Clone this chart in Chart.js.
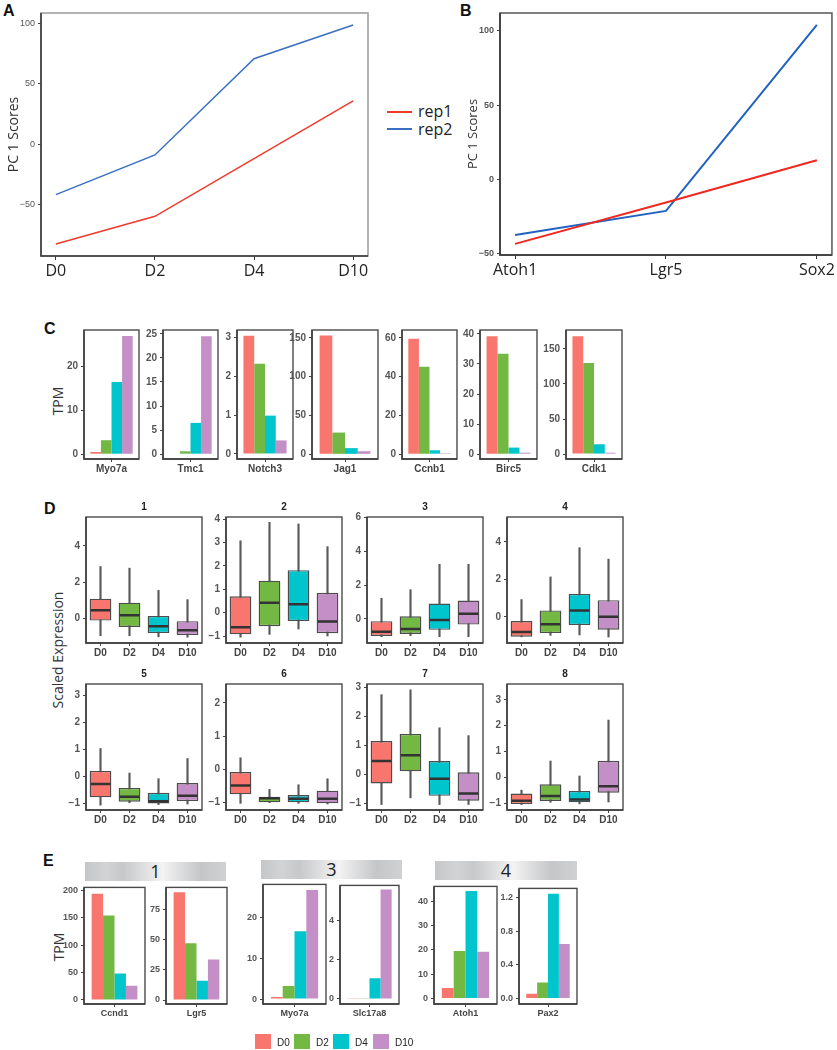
<!DOCTYPE html>
<html>
<head>
<meta charset="utf-8">
<script src="https://cdn.jsdelivr.net/npm/chart.js@4.4.0/dist/chart.umd.min.js"></script>
<style>
html, body { margin: 0; padding: 0; background: #fff; }
#fig { position: relative; width: 837px; height: 1050px; overflow: hidden; font-family: 'Liberation Sans', Arial, sans-serif; }
.letter { position: absolute; font-weight: bold; font-size: 16px; line-height: 1; color: #111; }
.rot { position: absolute; transform: translate(-50%, -50%) rotate(-90deg); white-space: nowrap; font-family: 'Open Sans', sans-serif; color: #333; font-size: 14px; }
.ttl { position: absolute; transform: translate(-50%, -50%); font-weight: bold; font-size: 10px; color: #222; }
.strip { position: absolute; height: 19px; line-height: 19px; text-align: center; font-family: 'Open Sans', sans-serif; font-size: 18px; color: #222;
  background: linear-gradient(90deg, #c5c6c8 0%, #d2d3d5 15%, #c7c8ca 27%, #f3f3f3 55%, #c5c6c8 82%, #d0d1d3 100%); }
.leg { position: absolute; font-family: 'Open Sans', sans-serif; font-size: 16px; color: #222; line-height: 1; transform: translateY(-50%); }
.legline { position: absolute; height: 1.5px; width: 25px; }
.sq { position: absolute; width: 16px; height: 15px; }
.sqt { position: absolute; font-size: 10px; color: #222; transform: translateY(-50%); }
</style>
</head>
<body>
<div id="fig">
  <div class="letter" style="left:3px;top:3px">A</div>
  <div class="letter" style="left:460px;top:3px">B</div>
  <div class="letter" style="left:44px;top:321px">C</div>
  <div class="letter" style="left:44px;top:501px">D</div>
  <div class="letter" style="left:43px;top:853px">E</div>

  <div class="legline" style="left:387px;top:111px;background:#f23a2c"></div>
  <div class="leg" style="left:418px;top:111px">rep1</div>
  <div class="legline" style="left:387px;top:128px;background:#3b6fc2"></div>
  <div class="leg" style="left:418px;top:129px">rep2</div>

  <div class="rot" style="left:57px;top:401px">TPM</div>
  <div class="rot" style="left:57px;top:650px">Scaled Expression</div>
  <div class="rot" style="left:58px;top:947px">TPM</div>

  <div class="strip" style="left:85px;top:862px;width:141px">1</div>
  <div class="strip" style="left:261px;top:860px;width:141px">3</div>
  <div class="strip" style="left:435px;top:861px;width:142px">4</div>
</div>
<script>
// ---- data ----
const days = ['D0', 'D2', 'D4', 'D10'];
const dayColors = ['#f8766d', '#72b843', '#00c5cd', '#c38fc6'];

// A: PC1 scores by day
const rep1A = [-83, -60, -12, 36];
const rep2A = [-42, -9, 71, 99];
const ticksA = [-50, 0, 50, 100];

// B: PC1 scores by gene
const genesB = ['Atoh1', 'Lgr5', 'Sox2'];
const rep1B = [-43.5, -15.6, 12.8];
const rep2B = [-37.6, -21.3, 104];
const ticksB = [-50, 0, 50, 100];

// C: TPM per day (D0, D2, D4, D10)
const genesC = ['Myo7a', 'Tmc1', 'Notch3', 'Jag1', 'Ccnb1', 'Birc5', 'Cdk1'];
const myo7aC = [0.5, 3.2, 16.5, 27.0];
const tmc1C = [0.1, 0.6, 6.5, 24.5];
const notch3C = [3.05, 2.33, 0.99, 0.35];
const jag1C = [153, 28, 8, 4];
const ccnb1C = [59.5, 45, 2, 0.5];
const birc5C = [39.2, 33.4, 2.2, 0.5];
const cdk1C = [168, 130, 14, 2];
const ticksC = [[0, 10, 20], [0, 5, 10, 15, 20, 25], [0, 1, 2, 3], [0, 50, 100, 150],
                [0, 20, 40, 60], [0, 10, 20, 30, 40], [0, 50, 100, 150]];

// D: box stats per cluster [low whisker, q1, median, q3, high whisker] for D0, D2, D4, D10
const box1 = [[-0.97, -0.13, 0.44, 1.08, 2.86], [-0.97, -0.48, 0.16, 0.86, 2.77], [-1.03, -0.82, -0.44, 0.13, 1.54], [-1.05, -0.93, -0.66, -0.16, 1.03]];
const box2 = [[-1.05, -0.93, -0.62, 0.70, 3.08], [-0.93, -0.58, 0.42, 1.37, 3.87], [-0.70, -0.36, 0.36, 1.82, 3.80], [-1.00, -0.88, -0.38, 0.85, 2.83]];
const box3 = [[-1.05, -1.00, -0.76, -0.13, 1.22], [-0.99, -0.89, -0.60, 0.16, 1.73], [-1.05, -0.64, -0.06, 0.91, 3.23], [-1.05, -0.33, 0.31, 1.09, 3.23]];
const box4 = [[-1.07, -1.06, -0.81, -0.23, 0.92], [-0.99, -0.87, -0.40, 0.34, 2.13], [-0.97, -0.44, 0.34, 1.22, 3.69], [-1.08, -0.69, 0.00, 0.89, 3.08]];
const box5 = [[-1.07, -0.78, -0.29, 0.20, 1.03], [-0.98, -0.94, -0.76, -0.43, 0.12], [-1.05, -1.01, -0.93, -0.61, -0.09], [-1.03, -0.92, -0.72, -0.25, 0.66]];
const box6 = [[-1.02, -0.75, -0.48, -0.08, 0.35], [-1.00, -0.99, -0.87, -0.82, -0.60], [-1.02, -0.99, -0.88, -0.77, -0.46], [-1.04, -1.02, -0.88, -0.64, -0.28]];
const box7 = [[-1.05, -0.32, 0.46, 1.15, 2.76], [-0.82, 0.10, 0.66, 1.40, 2.93], [-1.05, -0.75, -0.16, 0.46, 1.61], [-1.05, -0.92, -0.67, 0.07, 1.34]];
const box8 = [[-1.06, -1.04, -0.91, -0.63, -0.50], [-0.97, -0.92, -0.73, -0.27, 0.63], [-1.03, -0.97, -0.86, -0.53, 0.05], [-0.96, -0.60, -0.35, 0.64, 2.22]];
const ticksD = [[0, 2, 4], [-1, 0, 1, 2, 3, 4], [0, 2, 4, 6], [0, 2, 4],
                [-1, 0, 1, 2, 3], [-1, 0, 1, 2], [-1, 0, 1, 2, 3], [-1, 0, 1, 2, 3]];

// E: TPM per day for cluster marker genes
const genesE = ['Ccnd1', 'Lgr5', 'Myo7a', 'Slc17a8', 'Atoh1', 'Pax2'];
const ccnd1E = [193.5, 153.6, 48, 26];
const lgr5E = [89, 47, 16, 33.5];
const myo7aE = [0.5, 3.2, 16.7, 26.8];
const slc17a8E = [0.03, 0.03, 1.06, 5.59];
const atoh1E = [4.3, 19.6, 44.3, 19.2];
const pax2E = [0.055, 0.19, 1.25, 0.65];
const ticksE = [[0, 50, 100, 150, 200], [0, 25, 50, 75], [0, 10, 20], [0, 2, 4], [0, 10, 20, 30, 40], [0, 0.4, 0.8, 1.2]];

// ---- helpers ----
const FONT = "'Liberation Sans', Arial, sans-serif";
const OPEN = "'Open Sans', sans-serif";
Chart.defaults.font.family = FONT;
Chart.defaults.animation = false;
Chart.defaults.responsive = false;
Chart.defaults.plugins.legend.display = false;
Chart.defaults.plugins.tooltip.enabled = false;

const fig = document.getElementById('fig');
const minus = v => String(v).replace('-', '\u2212');

// panel frame: full rectangle, left + bottom drawn darker
const framePlugin = {
  id: 'frame',
  defaults: { color: '#3a3a3a', light: '#4a4a4a', width: 1.4 },
  afterDatasetsDraw(chart, args, o) {
    const { left, top, right, bottom } = chart.chartArea;
    const ctx = chart.ctx;
    ctx.save();
    ctx.lineWidth = o.width;
    ctx.strokeStyle = o.light;
    ctx.strokeRect(left, top, right - left, bottom - top);
    ctx.strokeStyle = o.color;
    ctx.beginPath();
    ctx.moveTo(left, top);
    ctx.lineTo(left, bottom);
    ctx.lineTo(right, bottom);
    ctx.stroke();
    ctx.restore();
  }
};

// median bars on top of box datasets
const medianPlugin = {
  id: 'medians',
  defaults: { values: null, dataset: 1, color: '#333', width: 2.5 },
  afterDatasetsDraw(chart, args, o) {
    if (!o.values) return;
    const meta = chart.getDatasetMeta(o.dataset);
    const y = chart.scales.y;
    const ctx = chart.ctx;
    ctx.save();
    ctx.strokeStyle = o.color;
    ctx.lineWidth = o.width;
    ctx.beginPath();
    meta.data.forEach((el, i) => {
      const p = el.getProps(['x', 'width'], true);
      const py = y.getPixelForValue(o.values[i]);
      ctx.moveTo(p.x - p.width / 2 + 1, py);
      ctx.lineTo(p.x + p.width / 2 - 1, py);
    });
    ctx.stroke();
    ctx.restore();
  }
};
Chart.register(framePlugin, medianPlugin);

function canvasFor(b, yw, xh, padT, padR) {
  const c = document.createElement('canvas');
  const w = b.w + yw + padR, h = b.h + padT + xh;
  c.width = w;
  c.height = h;
  c.style.position = 'absolute';
  c.style.left = (b.x - yw) + 'px';
  c.style.top = (b.y - padT) + 'px';
  c.style.width = w + 'px';
  c.style.height = h + 'px';
  fig.appendChild(c);
  return c;
}

function yScale(min, max, ticks, yw, font, fmt) {
  return {
    min: min,
    max: max,
    afterBuildTicks: s => { s.ticks = ticks.map(v => ({ value: v })); },
    afterFit: s => { s.width = yw; },
    grid: { drawOnChartArea: false, color: '#444', tickLength: 3 },
    border: { display: false },
    ticks: { font: font, color: '#555', padding: 3, autoSkip: false, callback: fmt || minus }
  };
}

function xCat(xh, font) {
  return {
    afterFit: s => { s.height = xh; },
    grid: { drawOnChartArea: false, offset: false, color: '#444', tickLength: 3 },
    border: { display: false },
    ticks: { font: font, color: '#444', padding: 1, autoSkip: false, maxRotation: 0 }
  };
}

function barPanel(b, gene, vals, ticks, font, catPct, fmt) {
  const yw = 30, xh = 16, padT = 8, padR = 5;
  new Chart(canvasFor(b, yw, xh, padT, padR), {
    type: 'bar',
    data: {
      labels: [gene],
      datasets: days.map((d, i) => ({
        label: d, data: [vals[i]], backgroundColor: dayColors[i],
        borderWidth: 0, categoryPercentage: catPct, barPercentage: 1
      }))
    },
    options: {
      layout: { padding: { top: padT, right: padR, left: 0, bottom: 0 } },
      scales: { x: xCat(xh, font), y: yScale(b.min, b.max, ticks, yw, font, fmt) }
    }
  });
}

function boxPanel(b, stats, ticks) {
  const yw = 30, xh = 18, padT = 8, padR = 5;
  const font = { size: 10, weight: 'bold' };
  new Chart(canvasFor(b, yw, xh, padT, padR), {
    type: 'bar',
    data: {
      labels: days,
      datasets: [
        { data: stats.map(s => [s[0], s[4]]), backgroundColor: '#5a5a5a', barThickness: 1.5, grouped: false, order: 2 },
        { data: stats.map(s => [s[1], s[3]]), backgroundColor: dayColors, borderColor: '#4d4d4d', borderWidth: 1.4,
          borderSkipped: false, grouped: false, order: 1, barPercentage: 0.75, categoryPercentage: 1 }
      ]
    },
    options: {
      layout: { padding: { top: padT, right: padR, left: 0, bottom: 0 } },
      plugins: { medians: { values: stats.map(s => s[2]), dataset: 1 } },
      scales: { x: xCat(xh, font), y: yScale(b.min, b.max, ticks, yw, font) }
    }
  });
}

function linePanel(b, labels, r1, r2, ticks, opt) {
  const yw = opt.yw, xh = 30, padT = 10, padR = opt.padR;
  const n = labels.length - 1;
  new Chart(canvasFor(b, yw, xh, padT, padR), {
    type: 'line',
    data: {
      datasets: [
        { label: 'rep1', data: r1.map((v, i) => ({ x: i, y: v })), borderColor: opt.red, borderWidth: opt.lw, pointRadius: 0, tension: 0 },
        { label: 'rep2', data: r2.map((v, i) => ({ x: i, y: v })), borderColor: opt.blue, borderWidth: opt.lw, pointRadius: 0, tension: 0 }
      ]
    },
    options: {
      layout: { padding: { top: padT, right: padR, left: 0, bottom: 0 } },
      plugins: { frame: { color: '#333', light: opt.light, width: 1.5 } },
      scales: {
        x: {
          type: 'linear', min: -0.05 * n, max: n * 1.05,
          afterBuildTicks: s => { s.ticks = labels.map((d, i) => ({ value: i })); },
          afterFit: s => { s.height = xh; },
          grid: { drawOnChartArea: false, color: '#333', tickLength: 4 },
          border: { display: false },
          ticks: { font: { family: OPEN, size: 16 }, color: '#222', padding: 2, autoSkip: false, maxRotation: 0, callback: v => labels[v] }
        },
        y: Object.assign(yScale(b.min, b.max, ticks, yw, opt.tickFont), {
          title: { display: true, text: 'PC 1 Scores', font: { family: OPEN, size: opt.titleSize }, color: '#333', padding: { top: opt.titlePad, bottom: 0 } }
        })
      }
    }
  });
}

// ---- A and B ----
linePanel({ x: 41, y: 13, w: 327, h: 243, min: -93, max: 109 }, days, rep1A, rep2A, ticksA,
  { yw: 41, padR: 10, red: '#f23a2c', blue: '#3b6fc2', lw: 1.5, light: '#9a9a9a', tickFont: { size: 9 }, titleSize: 14, titlePad: 6 });
linePanel({ x: 500, y: 13, w: 333, h: 242, min: -51, max: 112 }, genesB, rep1B, rep2B, ticksB,
  { yw: 42, padR: 4, red: '#f0281e', blue: '#2161c0', lw: 2, light: '#555', tickFont: { size: 9, weight: 'bold' }, titleSize: 13, titlePad: 7 });

// ---- C ----
const valsC = [myo7aC, tmc1C, notch3C, jag1C, ccnb1C, birc5C, cdk1C];
const boxesC = [
  { x: 84, w: 55, min: -1.1, max: 28.4 },
  { x: 163, w: 55, min: -1, max: 25.8 },
  { x: 237, w: 56, min: -0.13, max: 3.2 },
  { x: 312, w: 66, min: -6, max: 160 },
  { x: 402, w: 55, min: -2.5, max: 64 },
  { x: 480, w: 57, min: -1.6, max: 41.3 },
  { x: 566, w: 56, min: -7, max: 177 }
];
boxesC.forEach((b, i) => {
  barPanel(Object.assign({ y: 329, h: 130 }, b), genesC[i], valsC[i], ticksC[i], { size: 10, weight: 'bold' }, 0.77);
});

// ---- D ----
const statsD = [box1, box2, box3, box4, box5, box6, box7, box8];
const rangesD = [[-1.37, 5.6], [-1.3, 4.1], [-1.42, 6.02], [-1.4, 5.33], [-1.25, 3.42], [-1.22, 2.57], [-1.24, 3.13], [-1.27, 3.62]];
const colsD = [86, 226, 367, 507];
const rowsD = [516, 683];
statsD.forEach((st, i) => {
  const b = { x: colsD[i % 4], y: rowsD[Math.floor(i / 4)], w: 116, h: 127, min: rangesD[i][0], max: rangesD[i][1] };
  boxPanel(b, st, ticksD[i]);
  const t = document.createElement('div');
  t.className = 'ttl';
  t.textContent = String(i + 1);
  t.style.left = (b.x + b.w / 2) + 'px';
  t.style.top = (b.y - 10) + 'px';
  fig.appendChild(t);
});

// ---- E ----
const valsE = [ccnd1E, lgr5E, myo7aE, slc17a8E, atoh1E, pax2E];
const boxesE = [
  { x: 84, y: 887, w: 61, min: -7.3, max: 204.9 },
  { x: 166, y: 887, w: 61, min: -3.3, max: 93.1 },
  { x: 263, y: 884, w: 63, min: -1.2, max: 28.2 },
  { x: 340, y: 885, w: 59, min: -0.26, max: 5.8 },
  { x: 434, y: 886, w: 63, min: -2.3, max: 46.2 },
  { x: 519, y: 888, w: 58, min: -0.067, max: 1.313 }
];
boxesE.forEach((b, i) => {
  const fmt = i === 5 ? (v => v.toFixed(1)) : minus;
  barPanel(Object.assign({ h: 1004 - b.y }, b), genesE[i], valsE[i], ticksE[i], { size: 9, weight: 'bold' }, 0.75, fmt);
});

// E legend
const legX = [255, 294, 333, 373];
days.forEach((d, i) => {
  const s = document.createElement('div');
  s.className = 'sq';
  s.style.left = legX[i] + 'px';
  s.style.top = '1034px';
  s.style.background = dayColors[i];
  fig.appendChild(s);
  const t = document.createElement('div');
  t.className = 'sqt';
  t.textContent = d;
  t.style.left = (legX[i] + 22) + 'px';
  t.style.top = '1042px';
  fig.appendChild(t);
});
</script>
</body>
</html>
